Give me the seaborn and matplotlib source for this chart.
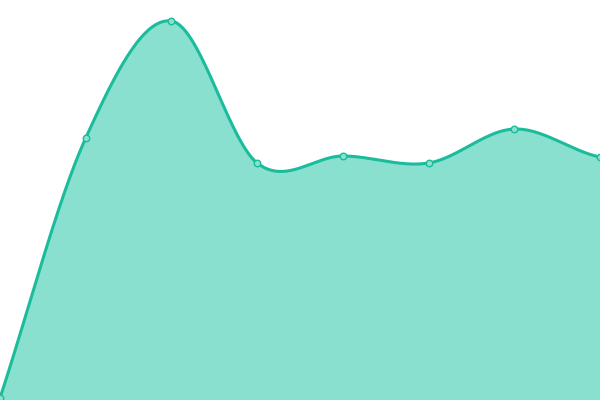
import numpy as np
import pandas as pd
import matplotlib
matplotlib.use("Agg")
import matplotlib.pyplot as plt
import seaborn as sns

categories = [0, 1, 2, 3, 4, 5, 6, 7]
values = [2, 262, 379, 237, 244, 237, 271, 243]

LINE = "#1abc9c"
FILL = "#89e0cf"

def catmull_rom(x, y, n=60, tension=0.5):
    x = np.asarray(x, float); y = np.asarray(y, float)
    px = np.concatenate([[2 * x[0] - x[1]], x, [2 * x[-1] - x[-2]]])
    py = np.concatenate([[y[0]], y, [y[-1]]])
    xs, ys = [], []
    t = np.linspace(0, 1, n, endpoint=False)
    for i in range(1, len(px) - 2):
        p0, p1, p2, p3 = py[i - 1], py[i], py[i + 1], py[i + 2]
        m1 = tension * (p2 - p0) if i > 1 else (p2 - p1) * 1.0
        m2 = tension * (p3 - p1) if i < len(px) - 3 else (p2 - p1) * 0.6
        h00 = 2 * t**3 - 3 * t**2 + 1
        h10 = t**3 - 2 * t**2 + t
        h01 = -2 * t**3 + 3 * t**2
        h11 = t**3 - t**2
        ys.append(h00 * p1 + h10 * m1 + h01 * p2 + h11 * m2)
        xs.append(px[i] + t * (px[i + 1] - px[i]))
    xs.append([x[-1]]); ys.append([y[-1]])
    return np.concatenate(xs), np.concatenate(ys)

sx, sy = catmull_rom(categories, values)
curve = pd.DataFrame({"x": sx, "y": sy})
pts = pd.DataFrame({"x": categories, "y": values})

sns.set_theme(style="white")
fig = plt.figure(figsize=(6, 4), dpi=100)
ax = fig.add_axes([0, 0, 1, 1])
ax.fill_between(curve["x"], curve["y"], 0, color=FILL, linewidth=0, zorder=1)
sns.lineplot(data=curve, x="x", y="y", ax=ax, color=LINE, linewidth=2.2, sort=False, zorder=2)
sns.scatterplot(data=pts, x="x", y="y", ax=ax, s=22, color=FILL, edgecolor=LINE, linewidth=1, zorder=3, clip_on=False)
ax.set_xlim(0, 7)
ax.set_ylim(0, 400)
ax.axis("off")
fig.savefig("out.png", dpi=100)
